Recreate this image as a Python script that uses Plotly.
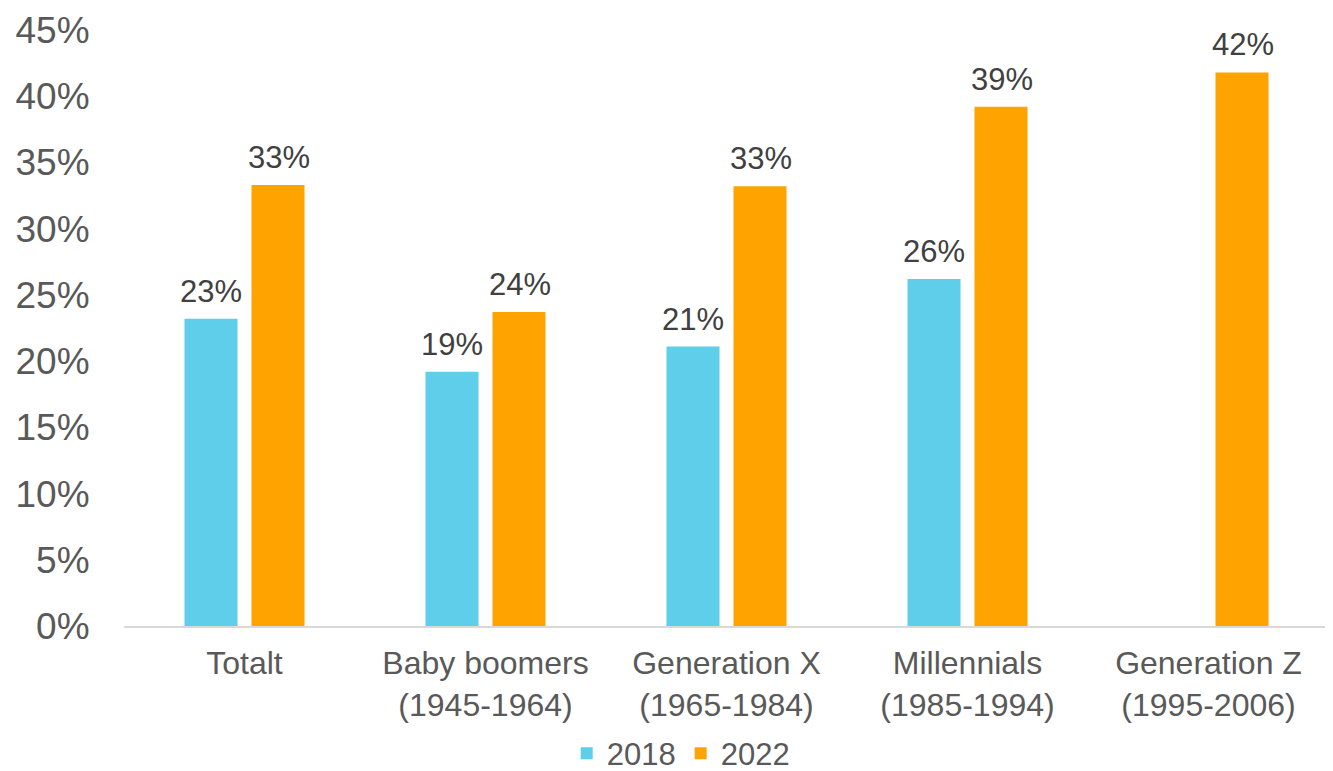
import plotly.graph_objects as go

categories = ["Totalt", "Baby boomers<br>(1945-1964)", "Generation X<br>(1965-1984)",
              "Millennials<br>(1985-1994)", "Generation Z<br>(1995-2006)"]
values_2018 = [23.2, 19.2, 21.1, 26.2, None]
values_2022 = [33.3, 23.7, 33.2, 39.2, 41.8]
series_names = ["2018", "2022"]
colors = ["#5ECEEA", "#FFA300"]
y_ticks = [0, 5, 10, 15, 20, 25, 30, 35, 40, 45]

FONT = "Liberation Sans, Arial, sans-serif"

fig = go.Figure()
for name, vals, col in zip(series_names, [values_2018, values_2022], colors):
    fig.add_trace(go.Bar(x=categories, y=vals, name=name, marker_color=col,
                         marker_line_width=0, showlegend=False))
# legend entries with larger square swatches
for name, col in zip(series_names, colors):
    fig.add_trace(go.Scatter(x=[None], y=[None], mode="markers", name=name,
                             marker=dict(symbol="square", size=17, color=col)))

# data labels
for vals, shift in [(values_2018, -34), (values_2022, 34)]:
    for c, v in zip(categories, vals):
        if v is None:
            continue
        fig.add_annotation(x=c, y=v, xref="x", yref="y", text=f"{round(v)}%",
                           showarrow=False, xshift=shift, yshift=8, yanchor="bottom",
                           font=dict(family=FONT, size=31, color="#404040"))

fig.update_layout(
    width=1325, height=763,
    margin=dict(l=116, r=4, t=22, b=145, autoexpand=False),
    paper_bgcolor="white", plot_bgcolor="white",
    barmode="group", bargap=0.444, bargroupgap=0.209,
    font=dict(family=FONT, color="#595959"),
    showlegend=True,
    legend=dict(orientation="h", x=0.462, xanchor="center",
                y=-0.214, yanchor="middle",
                font=dict(family=FONT, size=31, color="#595959"),
                itemsizing="constant", traceorder="normal", itemwidth=30),
)
fig.update_xaxes(showline=True, linecolor="#D9D9D9", linewidth=2, showgrid=False,
                 automargin=False,
                 tickfont=dict(family=FONT, size=32, color="#595959"),
                 ticks="outside", ticklen=8, tickcolor="rgba(0,0,0,0)")
fig.update_yaxes(range=[0, 45], tickvals=y_ticks, ticktext=[f"{t}%" for t in y_ticks],
                 showgrid=False, showline=False, zeroline=False, automargin=False,
                 tickfont=dict(family=FONT, size=37, color="#595959"),
                 ticks="outside", ticklen=26, tickcolor="rgba(0,0,0,0)")

fig.write_html("out.html")
